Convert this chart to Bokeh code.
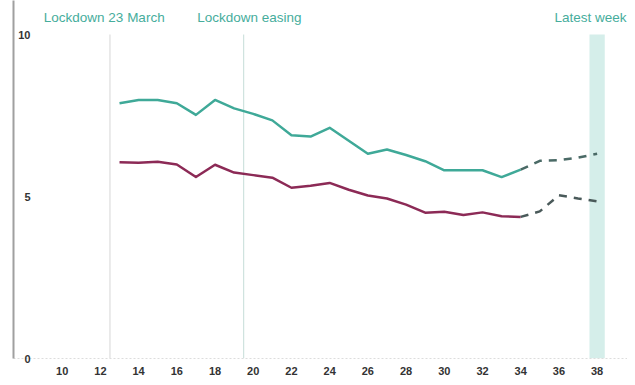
from bokeh.plotting import figure
from bokeh.models import FixedTicker, Range1d
from bokeh.core.properties import value
from bokeh.embed import file_html
from bokeh.resources import INLINE

weeks_solid = list(range(13, 35))
teal_solid = [7.88, 7.98, 7.98, 7.88, 7.52, 7.98, 7.72, 7.55, 7.35, 6.89, 6.85,
              7.12, 6.72, 6.32, 6.45, 6.28, 6.09, 5.81, 5.81, 5.81, 5.60, 5.83]
crimson_solid = [6.06, 6.04, 6.07, 5.99, 5.60, 5.98, 5.74, 5.66, 5.58, 5.27, 5.33,
                 5.42, 5.21, 5.03, 4.94, 4.75, 4.50, 4.53, 4.43, 4.51, 4.39, 4.37]
weeks_proj = [34, 35, 36, 37, 38]
teal_proj = [5.83, 6.10, 6.12, 6.20, 6.32]
crimson_proj = [4.37, 4.54, 5.04, 4.94, 4.85]

x_ticks = [10, 12, 14, 16, 18, 20, 22, 24, 26, 28, 30, 32, 34, 36, 38]
y_ticks = [0, 5, 10]

event_weeks = [12.5, 19.5]
event_colors = ["#d6d6d6", "#c6ddd8"]
latest_week = 38
annot_text = ["Lockdown 23 March", "Lockdown easing", "Latest week"]
annot_x = [12.2, 19.8, 37.65]

TEAL = "#3fa998"
CRIMSON = "#8c2a56"
LABEL_TEAL = "#46ad9c"

p = figure(width=627, height=377, output_backend="svg", toolbar_location=None,
           x_range=Range1d(7.451, 39.59), y_range=Range1d(0, 11.05),
           min_border_left=13, min_border_right=0, min_border_top=0, min_border_bottom=0)
p.outline_line_color = None
p.xgrid.visible = False
p.ygrid.visible = False

# latest week band
p.quad(left=[latest_week - 0.4], right=[latest_week + 0.4], bottom=[0], top=[10],
       fill_color="#d5eeea", line_color=None)

# event lines
p.segment(x0=event_weeks, x1=event_weeks, y0=[0, 0], y1=[10, 10],
          line_color=event_colors, line_width=1)

# series
p.line(weeks_solid, teal_solid, line_color=TEAL, line_width=2.5, line_join="round")
p.line(weeks_solid, crimson_solid, line_color=CRIMSON, line_width=2.5, line_join="round")
p.line(weeks_proj, teal_proj, line_color="#4a6a66", line_width=2.5, line_dash="8 7")
p.line(weeks_proj, crimson_proj, line_color="#4a5a5a", line_width=2.5, line_dash="8 7")

# annotations
p.text(x=annot_x, y=[10.52] * 3, text=annot_text, text_color=LABEL_TEAL,
       text_font=value("Liberation Sans"), text_font_size="13.5px",
       text_align="center", text_baseline="middle")

# axes
p.xaxis.ticker = FixedTicker(ticks=x_ticks)
p.xaxis.major_tick_line_color = None
p.xaxis.minor_tick_line_color = None
p.xaxis.axis_line_color = "#dddddd"
p.xaxis.axis_line_dash = "2 2"
p.xaxis.major_label_text_font = "Liberation Sans"
p.xaxis.major_label_text_font_style = "bold"
p.xaxis.major_label_text_font_size = "11px"
p.xaxis.major_label_text_color = "#333333"
p.xaxis.major_label_standoff = 2

p.yaxis.ticker = FixedTicker(ticks=y_ticks)
p.yaxis.major_tick_line_color = None
p.yaxis.minor_tick_line_color = None
p.yaxis.axis_line_color = "#a0a0a0"
p.yaxis.axis_line_width = 2
p.yaxis.major_label_text_font = "Liberation Sans"
p.yaxis.major_label_text_font_style = "bold"
p.yaxis.major_label_text_font_size = "11px"
p.yaxis.major_label_text_color = "#333333"
p.yaxis.major_label_standoff = -23

open("out.html", "w").write(file_html(p, INLINE))
